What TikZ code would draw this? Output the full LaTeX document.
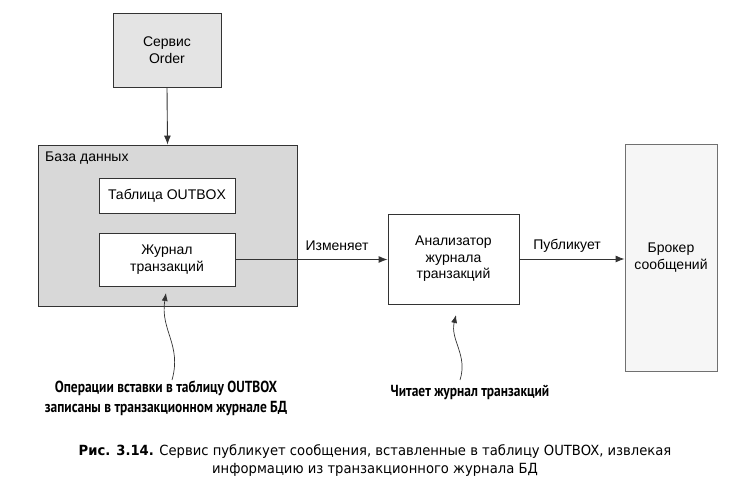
\documentclass[tikz,border=0pt]{standalone}
\usepackage{fontspec}
\setmainfont{Liberation Sans}
\newfontfamily\calloutfont[FakeStretch=0.84]{PT Sans}
\newfontfamily\capfont[FakeStretch=0.94]{DejaVu Sans}
\usetikzlibrary{arrows.meta}
\definecolor{svcgray}{HTML}{E4E4E4}
\definecolor{dbgray}{HTML}{D8D8D8}
\definecolor{brokergray}{HTML}{F6F6F6}
\definecolor{linegray}{HTML}{333333}
\tikzset{
  box/.style={draw=linegray, line width=0.9pt, align=center, inner sep=0pt,
    font=\fontsize{14}{16.5}\selectfont},
  conn/.style={draw=linegray, line width=0.9pt, -{Latex[length=9pt,width=7pt]}},
  wavy/.style={draw=linegray, line width=0.7pt, -{Latex[length=8pt,width=6pt]}},
  lbl/.style={font=\fontsize{14}{16}\selectfont, inner sep=0pt},
  callout/.style={font=\calloutfont\bfseries\fontsize{16}{20}\selectfont, align=center, inner sep=0pt},
}
\begin{document}
\begin{tikzpicture}[x=1pt,y=-1pt]
\useasboundingbox (0,0) rectangle (747,502);
\node[box, fill=svcgray, minimum width=108pt, minimum height=74pt] (svc) at (167,50) {Сервис\\Order};
\node[box, fill=dbgray, minimum width=259pt, minimum height=161pt] (db) at (167.5,225.5) {};
\node[lbl, anchor=north west] (dblabel) at (45,152) {База данных};
\node[box, fill=white, minimum width=136pt, minimum height=35pt] (outbox) at (167,195.5) {Таблица OUTBOX};
\node[box, fill=white, minimum width=136pt, minimum height=53pt] (journal) at (167,259.5) {Журнал\\транзакций};
\node[box, fill=white, minimum width=131pt, minimum height=90pt] (analyzer) at (453.5,259) {Анализатор\\журнала\\транзакций};
\node[box, fill=brokergray, draw=linegray!70, minimum width=92pt, minimum height=227pt] (broker) at (671,257.5) {Брокер\\сообщений};
\draw[conn] (svc.south) -- (db.north);
\draw[conn] (journal.east) -- (analyzer.west |- journal.east);
\draw[conn] (analyzer.east) -- (analyzer.east -| broker.west);
\node[lbl] (changes) at (337,246) {Изменяет};
\node[lbl] (publishes) at (567,246) {Публикует};
\coordinate (c1) at (172,380);
\coordinate (t1) at (166,293);
\coordinate (c2) at (460,380);
\coordinate (t2) at (456,315);
\draw[wavy] (c1) .. controls (182,345) and (160,330) .. (t1);
\draw[wavy] (c2) .. controls (468,355) and (450,340) .. (t2);
\node[callout] (note1) at (166,398) {Операции вставки в таблицу OUTBOX\\записаны в транзакционном журнале БД};
\node[callout] (note2) at (470,393) {Читает журнал транзакций};
\node[font=\capfont\fontsize{14}{18}\selectfont, align=center, inner sep=0pt] (caption) at (375,461)
  {{\bfseries Рис. 3.14.} Сервис публикует сообщения, вставленные в таблицу OUTBOX, извлекая\\информацию из транзакционного журнала БД};
\end{tikzpicture}
\end{document}
